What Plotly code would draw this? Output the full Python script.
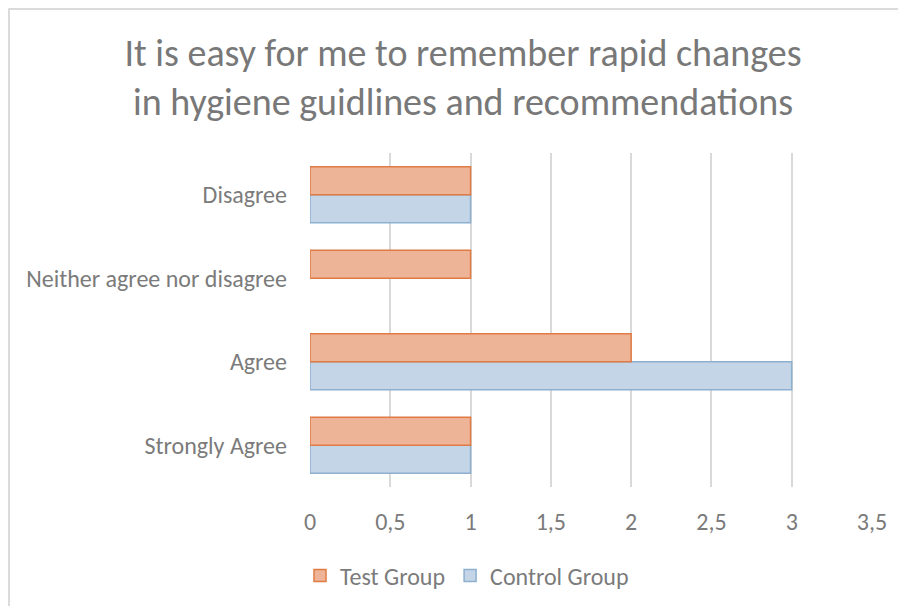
import plotly.graph_objects as go

categories = ["Strongly Agree", "Agree", "Neither agree nor disagree", "Disagree"]
test_group = [1, 2, 1, 1]
control_group = [1, 3, 0, 1]
x_ticks = [0, 0.5, 1, 1.5, 2, 2.5, 3, 3.5]

W, H = 906, 606
OFF = 8  # page offset of the figure in the screenshot
# desired screen pixel positions of plot area
SX0, SX1, SY0, SY1 = 310, 872, 153, 487
L = SX0 - OFF
R = W - (SX1 - OFF)
T = SY0 - OFF
B = H - (SY1 - OFF)
pw, ph = SX1 - SX0, SY1 - SY0

def px(x):
    return (x - SX0) / pw

def py(y):
    return (SY1 - y) / ph

font_family = "Carlito, Calibri, 'Open Sans', 'Liberation Sans', sans-serif"
gray = "#7B7B7B"

def outline_widths(values):
    return [1.5 if v > 0 else 0 for v in values]

fig = go.Figure()
fig.add_trace(go.Bar(
    y=categories, x=control_group, orientation="h", name="Control Group",
    marker=dict(color="#C3D5E6", line=dict(color="#8EB0CF", width=outline_widths(control_group))),
    legendrank=2,
))
fig.add_trace(go.Bar(
    y=categories, x=test_group, orientation="h", name="Test Group",
    marker=dict(color="#EDB497", line=dict(color="#E07B45", width=outline_widths(test_group))),
    legendrank=1,
))

fig.update_layout(
    width=W, height=H,
    margin=dict(l=L, r=R, t=T, b=B),
    paper_bgcolor="white", plot_bgcolor="white",
    barmode="group", bargap=0.33, bargroupgap=0,
    separators=",.",
    font=dict(family=font_family, color=gray, size=24),
    title=dict(
        text="It is easy for me to remember rapid changes<br>in hygiene guidlines and recommendations",
        x=px(463), xref="paper", xanchor="center",
        y=1 - (77 - OFF - 11) / H, yref="container", yanchor="middle",
        font=dict(size=38, color="#787878", family=font_family),
    ),
    xaxis=dict(
        range=[0, 3.5], tickvals=x_ticks, showgrid=True, gridcolor="#D9D9D9", gridwidth=1.5,
        zeroline=False, showline=False, ticks="", ticklabelstandoff=18,
        tickfont=dict(size=24, color=gray),
    ),
    yaxis=dict(
        showgrid=False, zeroline=False, showline=False, ticks="",
        ticklabelstandoff=22, tickfont=dict(size=24, color=gray),
    ),
    legend=dict(
        orientation="h", x=px(467), xanchor="center", y=py(576), yanchor="middle",
        font=dict(size=24, color=gray), itemwidth=30,
    ),
    shapes=[dict(
        type="rect", xref="paper", yref="paper",
        x0=px(OFF + 1), x1=px(W + 20), y0=py(H + 20), y1=py(9),
        line=dict(color="#D0D0D0", width=1.5), fillcolor="rgba(0,0,0,0)", layer="below",
    )],
)

fig.write_html("out.html")
